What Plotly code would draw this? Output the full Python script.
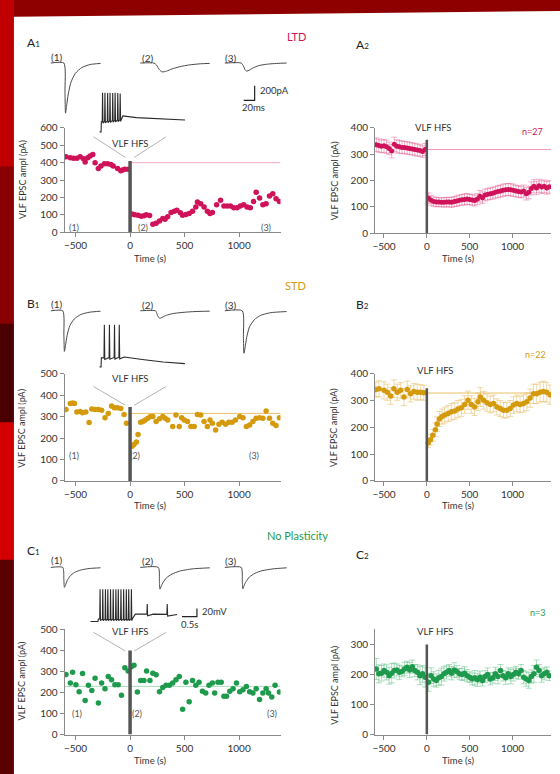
import numpy as np
import plotly.graph_objects as go

W, H = 560, 774
FONT = "Lato, Open Sans, sans-serif"
C_LTD = "#cf1259"
C_STD = "#d49a0c"
C_NP = "#1e9a4c"
AXC = "#8a8a8a"
TRC = "#4a4a4a"

# ---------------- data ----------------
# A1  LTD single cell
a1_pre_t = [-588, -548, -518, -488, -458, -427, -412, -388, -367, -342, -321, -291, -267, -236, -206, -176, -155, -115, -85, -70, -48, -18]
a1_pre_v = [434, 428, 425, 425, 434, 423, 404, 428, 438, 447, 400, 366, 381, 394, 394, 390, 381, 366, 353, 358, 362, 362]
a1_post_t = [18, 42, 73, 103, 127, 148, 179, 209, 239, 270, 300, 321, 345, 376, 406, 430, 461, 482, 512, 542, 573, 603, 618, 648,
             679, 709, 733, 755, 794, 830, 861, 891, 921, 951, 982, 1012, 1042, 1073, 1103, 1133, 1157, 1188, 1218, 1248, 1279, 1309, 1339, 1370]
a1_post_v = [105, 100, 98, 92, 95, 100, 96, 45, 51, 64, 79, 74, 89, 113, 121, 126, 111, 98, 102, 108, 121, 145, 174, 164,
             145, 121, 108, 113, 158, 183, 151, 151, 151, 140, 140, 151, 158, 145, 140, 177, 230, 196, 158, 164, 208, 221, 192, 177]
a1_ref = 400
a1_bar = 410

# A2  LTD mean (n=27)
a2_pre_t = [-590, -560, -530, -500, -470, -440, -410, -380, -350, -320, -290, -260, -230, -200, -170, -140, -110, -80, -50, -20]
a2_pre_v = [336, 333, 330, 332, 328, 322, 312, 338, 330, 328, 326, 326, 324, 322, 320, 318, 316, 314, 310, 318]
a2_pre_e = [26, 25, 24, 25, 25, 24, 26, 27, 25, 24, 24, 23, 24, 23, 23, 24, 23, 22, 22, 23]
a2_post_t = [20, 50, 80, 110, 140, 170, 200, 230, 260, 290, 320, 350, 380, 410, 440, 470, 500, 530, 560, 590, 620, 650, 680, 710,
             740, 770, 800, 830, 860, 890, 920, 950, 980, 1010, 1040, 1070, 1100, 1130, 1160, 1190, 1220, 1250, 1280, 1310, 1340, 1370, 1400, 1430]
a2_post_v = [133, 125, 120, 118, 118, 117, 117, 118, 118, 117, 120, 122, 125, 127, 128, 130, 128, 126, 124, 130, 140, 135, 145, 148,
             150, 152, 155, 158, 160, 163, 165, 166, 165, 163, 160, 158, 156, 160, 150, 155, 170, 178, 172, 180, 175, 178, 172, 176]
a2_post_e = [20, 19, 18, 18, 17, 17, 18, 18, 18, 19, 19, 20, 20, 20, 21, 21, 20, 20, 21, 21, 22, 22, 22, 22,
             22, 22, 22, 23, 23, 23, 23, 23, 23, 23, 22, 22, 22, 23, 24, 24, 25, 25, 25, 25, 24, 24, 24, 24]
a2_ref = 318
a2_bar = 355

# B1  STD single cell
b1_pre_t = [-588, -548, -527, -510, -488, -458, -436, -406, -376, -351, -321, -291, -261, -230, -200, -170, -145, -115, -85, -55, -33]
b1_pre_v = [333, 361, 364, 361, 321, 324, 318, 321, 272, 336, 333, 333, 330, 295, 315, 350, 341, 341, 338, 310, 269]
b1_post_t = [18, 36, 58, 73, 97, 118, 139, 164, 188, 209, 239, 270, 300, 321, 345, 391, 421, 451, 473, 497, 527, 558, 588, 618, 648,
             679, 709, 733, 755, 785, 815, 845, 876, 906, 936, 967, 1006, 1036, 1067, 1097, 1127, 1157, 1188, 1218, 1248, 1279, 1309, 1339, 1370]
b1_post_v = [162, 170, 182, 216, 274, 277, 284, 292, 300, 300, 277, 290, 300, 292, 284, 254, 307, 254, 295, 284, 277, 254, 254, 310, 307,
             277, 254, 284, 269, 238, 264, 274, 264, 274, 274, 284, 300, 295, 254, 261, 277, 292, 295, 292, 326, 292, 269, 258, 295]
b1_ref = 315
b1_bar = 345

# B2  STD mean (n=22)
b2_pre_t = [-595, -558, -500, -461, -422, -384, -345, -306, -267, -229, -190, -151, -112, -74, -35]
b2_pre_v = [341, 344, 338, 331, 317, 344, 331, 338, 313, 341, 325, 334, 331, 331, 329]
b2_pre_e = [28, 30, 32, 30, 31, 33, 30, 29, 32, 31, 30, 29, 30, 28, 28]
b2_post_t = [16, 43, 70, 100, 120, 147, 178, 209, 248, 287, 326, 364, 403, 442, 481, 519, 558, 597, 624, 663,
             702, 740, 779, 818, 857, 895, 934, 973, 1012, 1050, 1089, 1128, 1167, 1205, 1244, 1283, 1322, 1360, 1399, 1438]
b2_post_v = [142, 154, 170, 191, 212, 231, 240, 246, 252, 258, 261, 268, 273, 285, 301, 285, 276, 295, 313, 301,
             292, 285, 289, 276, 270, 264, 264, 270, 283, 289, 285, 289, 295, 309, 325, 325, 331, 334, 331, 322]
b2_post_e = [18, 20, 22, 25, 27, 28, 28, 30, 30, 31, 31, 32, 32, 33, 34, 33, 32, 33, 35, 33,
             32, 31, 31, 30, 30, 29, 29, 30, 31, 31, 31, 32, 33, 34, 36, 36, 37, 38, 37, 36]
b2_ref = 328
b2_bar = 346

# C1  no plasticity single cell
c1_t = [-588, -548, -527, -497, -467, -436, -412, -382, -351, -321, -291, -261, -230, -200, -170, -139, -109, -79, -48, -18,
        12, 36, 67, 97, 127, 151, 182, 209, 239, 270, 300, 330, 361, 391, 421, 451, 482, 512, 542, 573,
        603, 633, 664, 694, 724, 755, 776, 806, 836, 861, 885, 915, 945, 976, 1006, 1036, 1067, 1097, 1127, 1157,
        1188, 1218, 1248, 1270, 1300, 1330, 1370]
c1_v = [285, 245, 296, 237, 203, 290, 162, 234, 209, 268, 150, 245, 218, 276, 260, 237, 237, 187, 318, 302,
        322, 330, 202, 257, 257, 302, 257, 291, 284, 203, 224, 234, 234, 245, 260, 276, 120, 249, 156, 257,
        234, 249, 206, 198, 234, 245, 198, 249, 249, 182, 182, 206, 218, 245, 203, 213, 229, 203, 198, 218,
        167, 198, 218, 198, 179, 234, 202]
c1_ref = 229
c1_bar = 400

# C2  no plasticity mean (n=3)
c2_t = [-590, -560, -530, -500, -470, -440, -410, -380, -350, -320, -290, -260, -230, -200, -170, -140, -110, -80, -50, -20,
        20, 50, 80, 110, 140, 170, 200, 230, 260, 290, 320, 350, 380, 410, 440, 470, 500, 530, 560, 590, 620, 650, 680, 710,
        740, 770, 800, 830, 860, 890, 920, 950, 980, 1010, 1040, 1070, 1100, 1130, 1160, 1190, 1220, 1250, 1280, 1310, 1340, 1370, 1400, 1430]
c2_v = [218, 202, 204, 213, 207, 196, 204, 213, 215, 207, 210, 218, 224, 215, 226, 213, 207, 196, 202, 191,
        174, 196, 185, 180, 189, 193, 202, 207, 213, 204, 215, 210, 202, 200, 204, 196, 191, 185, 189, 182, 191, 180, 193, 200,
        185, 189, 202, 193, 213, 196, 189, 202, 193, 200, 207, 202, 213, 191, 185, 180, 193, 202, 224, 213, 196, 202, 207, 196]
c2_e = [35, 30, 26, 22, 25, 28, 32, 25, 20, 24, 18, 22, 20, 25, 22, 20, 25, 30, 28, 33,
        30, 26, 24, 22, 25, 28, 24, 22, 20, 22, 24, 20, 18, 20, 22, 20, 18, 20, 24, 22, 20, 18, 20, 22,
        20, 18, 22, 24, 20, 18, 22, 20, 24, 22, 20, 18, 20, 22, 24, 26, 22, 28, 24, 20, 22, 20, 18, 16]
c2_bar = 300

# example EPSC traces (time in ms, current in pA), three per row
epsc = {
    "A": [([0, 24, 26, 27, 29, 32, 37, 45, 57, 72, 91], [0, 0, -400, -680, -580, -420, -260, -140, -60, -20, -5]),
          ([0, 25, 30, 35, 40, 48, 58, 72, 90, 110, 127], [0, 0, -30, -90, -120, -110, -80, -50, -25, -10, -5]),
          ([0, 30, 34, 37, 40, 45, 52, 62, 78, 95, 113], [0, 0, -40, -90, -110, -95, -65, -35, -15, -5, 0])],
    "B": [([0, 22, 24, 25, 27, 30, 35, 43, 55, 70, 91], [0, 0, -330, -550, -470, -330, -200, -110, -50, -20, -5]),
          ([0, 28, 31, 34, 37, 42, 50, 62, 80, 100, 127], [0, 0, -50, -95, -100, -80, -55, -35, -20, -10, -5]),
          ([0, 32, 34, 35, 37, 40, 45, 54, 66, 84, 113], [0, 0, -350, -575, -500, -360, -220, -120, -60, -25, -10])],
    "C": [([0, 22, 24, 25, 27, 30, 35, 43, 55, 70, 91], [0, 0, -170, -270, -240, -180, -120, -70, -35, -15, -5]),
          ([0, 33, 35, 36, 38, 42, 48, 58, 72, 95, 127], [0, 0, -190, -295, -260, -200, -140, -90, -50, -20, -5]),
          ([0, 30, 32, 33, 35, 39, 45, 55, 68, 88, 113], [0, 0, -190, -290, -250, -190, -130, -80, -45, -20, -5])],
}
# HFS responses (time in s, membrane potential in mV)
hfs = {
    "A": dict(env_t=[0.07, 0.12, 0.13, 0.8, 0.85, 1.3, 2.0, 2.93], env_v=[-70, -70, -45, -40, -31, -35, -38, -41],
              sp_t=[0.17, 0.25, 0.34, 0.42, 0.51, 0.59, 0.68, 0.76], sp_v=[26, 26, 25, 26, 25, 26, 25, 24]),
    "B": dict(env_t=[0.07, 0.12, 0.13, 0.9, 1.5, 2.2, 2.93], env_v=[-70, -70, -48, -46, -52, -58, -62],
              sp_t=[0.23, 0.40, 0.57, 0.73], sp_v=[33, 33, 33, 33]),
    "C": dict(env_t=[0.1, 0.35, 0.36, 1.5, 1.6, 2.2, 3.0], env_v=[-70, -70, -64, -64, -52, -52, -53],
              sp_t=[0.42, 0.51, 0.60, 0.68, 0.77, 0.86, 0.95, 1.03, 1.12, 1.21, 1.30, 1.38, 1.47, 2.0, 2.67],
              sp_v=[9, 9, 9, 9, 9, 9, 9, 9, 9, 9, 9, 9, 9, -27, -27]),
}

x_ticks = [-500, 0, 500, 1000]

# ---------------- layout helpers ----------------
layout = dict(width=W, height=H, margin=dict(l=0, r=0, t=0, b=0),
              paper_bgcolor="#8e0000", plot_bgcolor="rgba(0,0,0,0)", showlegend=False,
              font=dict(family=FONT, size=10, color="#333"))
ann, shapes, traces = [], [], []


def names(i):
    return ("xaxis" if i == 1 else f"xaxis{i}", "yaxis" if i == 1 else f"yaxis{i}",
            "x" if i == 1 else f"x{i}", "y" if i == 1 else f"y{i}")


def axes(i, xpx, ypx, xr, yr, main=True, yticks=None):
    xa, ya, xs, ys = names(i)
    xd = [xpx[0] / W, xpx[1] / W]
    yd = [1 - ypx[1] / H, 1 - ypx[0] / H]
    if main:
        base = dict(showline=True, linecolor=AXC, linewidth=1, ticks="outside", ticklen=4, tickcolor=AXC,
                    showgrid=False, zeroline=False, tickfont=dict(size=10, color="#333"))
        layout[xa] = dict(domain=xd, range=xr, anchor=ys, tickvals=x_ticks, **base)
        layout[ya] = dict(domain=yd, range=yr, anchor=xs, tickvals=yticks, **base)
    else:
        layout[xa] = dict(domain=xd, range=xr, anchor=ys, visible=False)
        layout[ya] = dict(domain=yd, range=yr, anchor=xs, visible=False)
    return xs, ys


def txt(x, y, s, size=10, color="#333", xanchor="center", yanchor="middle", angle=0):
    ann.append(dict(x=x / W, y=1 - y / H, xref="paper", yref="paper", text=s, showarrow=False,
                    font=dict(size=size, color=color, family=FONT), xanchor=xanchor, yanchor=yanchor, textangle=angle))


def pline(x0, y0, x1, y1, color="#b4b4b4", width=1):
    shapes.append(dict(type="line", xref="paper", yref="paper", x0=x0 / W, y0=1 - y0 / H, x1=x1 / W, y1=1 - y1 / H,
                       line=dict(color=color, width=width)))


def dots(xs, ys, t, v, color, size=5, err=None, ecolor=None):
    tr = go.Scatter(x=t, y=v, mode="markers", xaxis=xs, yaxis=ys,
                    marker=dict(color=color, size=size, line=dict(width=0)), hoverinfo="skip")
    if err is not None:
        tr.error_y = dict(type="data", array=err, visible=True, color=ecolor, thickness=0.8, width=3)
    traces.append(tr)


def bar(xs, ys, top, width):
    shapes.append(dict(type="line", xref=xs, yref=ys, x0=0, x1=0, y0=0, y1=top,
                       line=dict(color="#555555", width=width)))


def ref(xs, ys, y, x0, x1, color):
    shapes.append(dict(type="line", xref=xs, yref=ys, x0=x0, x1=x1, y0=y, y1=y,
                       line=dict(color=color, width=1), layer="below"))


# ---------------- background panel ----------------
for (ya, yb, col) in [(0, 170, "#c00000"), (170, 330, "#8a0000"), (330, 430, "#4a0000"),
                      (430, 570, "#d40000"), (570, 790, "#5a0000")]:
    shapes.append(dict(type="rect", xref="paper", yref="paper", x0=-0.01, x1=11 / W, y0=1 - yb / H, y1=1 - ya / H + 0.01,
                       fillcolor=col, line=dict(width=0), layer="below"))
shapes.append(dict(type="path", xref="paper", yref="paper",
                   path=f"M {11/W},{1-10/H} L 1.02,{1-4/H} L 1.02,-0.02 L {11/W},-0.02 Z",
                   fillcolor="white", line=dict(width=0), layer="below"))

# ---------------- main panels ----------------
XL1, XL2 = [62, 279], [374, 551]
R1, R2 = [-600, 1380], [-605, 1450]

xs, ys = axes(1, XL1, [123, 229], R1, [0, 600], yticks=[0, 100, 200, 300, 400, 500, 600])
ref(xs, ys, a1_ref, 0, R1[1], "#f3a9c2")
dots(xs, ys, a1_pre_t + a1_post_t, a1_pre_v + a1_post_v, C_LTD, 5.5)
bar(xs, ys, a1_bar, 3.5)

xs, ys = axes(2, XL2, [123, 230], R2, [0, 400], yticks=[0, 100, 200, 300, 400])
ref(xs, ys, a2_ref, 0, R2[1], "#f09ab8")
dots(xs, ys, a2_pre_t + a2_post_t, a2_pre_v + a2_post_v, C_LTD, 5, a2_pre_e + a2_post_e, "rgba(225,80,135,0.55)")
bar(xs, ys, a2_bar, 2.5)

xs, ys = axes(3, XL1, [373, 482], R1, [0, 500], yticks=[0, 100, 200, 300, 400, 500])
ref(xs, ys, b1_ref, 0, R1[1], "#e9c062")
dots(xs, ys, b1_pre_t + b1_post_t, b1_pre_v + b1_post_v, C_STD, 5.5)
bar(xs, ys, b1_bar, 3.5)

xs, ys = axes(4, XL2, [373, 482], R2, [0, 400], yticks=[0, 100, 200, 300, 400])
ref(xs, ys, b2_ref, 0, R2[1], "#e9c062")
dots(xs, ys, b2_pre_t + b2_post_t, b2_pre_v + b2_post_v, C_STD, 5.5, b2_pre_e + b2_post_e, "rgba(226,175,70,0.6)")
bar(xs, ys, b2_bar, 2.5)

xs, ys = axes(5, XL1, [633, 740], R1, [0, 500], yticks=[0, 100, 200, 300, 400, 500])
ref(xs, ys, c1_ref, R1[0], R1[1], "#a9dcb9")
dots(xs, ys, c1_t, c1_v, C_NP, 5.5)
bar(xs, ys, c1_bar, 3.5)

xs, ys = axes(6, XL2, [633, 740], R2, [0, 350], yticks=[0, 100, 200, 300])
dots(xs, ys, c2_t, c2_v, C_NP, 5.5, c2_e, "rgba(70,180,110,0.55)")
bar(xs, ys, c2_bar, 2.5)

# in-plot sample markers (1)(2)(3)
for i, (pts) in zip([1, 3, 5], [[(-518, 28), (121, 28), (1243, 28)],
                                 [(-518, 119), (48, 119), (1134, 119)],
                                 [(-490, 98), (66, 98), (1298, 98)]]):
    xs, ys = names(i)[2:]
    for k, (tx, ty) in enumerate(pts):
        ann.append(dict(x=tx, y=ty, xref=xs, yref=ys, text=f"({k+1})", showarrow=False,
                        font=dict(size=9, color="#555", family=FONT)))

# ---------------- example traces ----------------
MS_PX = 0.55       # px per ms
PA_PX = 15 / 200   # px per pA
strip_x = [40, 300]
starts_px = [48, 138, 223]
base_px = {"A": 57, "B": 309, "C": 570}
for j, key in enumerate(["A", "B", "C"]):
    b = base_px[key]
    ypx = [b - 12, b + 55]
    xr = [0, (strip_x[1] - strip_x[0]) / MS_PX]
    yr = [-(ypx[1] - b) / PA_PX, (b - ypx[0]) / PA_PX]
    xs, ys = axes(7 + j, strip_x, ypx, xr, yr, main=False)
    for k, (tt, vv) in enumerate(epsc[key]):
        off = (starts_px[k] - strip_x[0]) / MS_PX
        traces.append(go.Scatter(x=[off + t for t in tt], y=vv, mode="lines", xaxis=xs, yaxis=ys,
                                 line=dict(color=TRC, width=1, shape="spline", smoothing=0.6), hoverinfo="skip"))
    if key == "A":
        bx = (253 - strip_x[0]) / MS_PX
        by = -(95 - b) / PA_PX
        traces.append(go.Scatter(x=[bx - 20, bx, bx], y=[by, by, by + 200], mode="lines", xaxis=xs, yaxis=ys,
                                 line=dict(color="#222", width=1.2), hoverinfo="skip"))

S_PX = 30       # px per s
MV_PX = 0.415   # px per mV
hfs_box = {"A": ([95, 190], [82, 130], 127), "B": ([95, 190], [318, 370], 366), "C": ([85, 200], [585, 630], 625)}
for j, key in enumerate(["A", "B", "C"]):
    xpx, ypx, rest_px = hfs_box[key]
    xr = [0, (xpx[1] - xpx[0]) / S_PX]
    yr = [-70 - (ypx[1] - rest_px) / MV_PX, -70 + (rest_px - ypx[0]) / MV_PX]
    xs, ys = axes(10 + j, xpx, ypx, xr, yr, main=False)
    d = hfs[key]
    t = list(d["env_t"]); v = list(d["env_v"])
    for s, pk in zip(d["sp_t"], d["sp_v"]):
        bse = float(np.interp(s, d["env_t"], d["env_v"]))
        t += [s - 0.012, s, s + 0.014]
        v += [bse, pk, bse - 4]
    order = np.argsort(t)
    traces.append(go.Scatter(x=np.array(t)[order], y=np.array(v)[order], mode="lines", xaxis=xs, yaxis=ys,
                             line=dict(color="#2a2a2a", width=1.1), hoverinfo="skip"))
    if key == "C":
        sx = (195 - xpx[0]) / S_PX
        sy = -70 + (rest_px - 620) / MV_PX
        traces.append(go.Scatter(x=[sx - 0.5, sx, sx], y=[sy, sy, sy + 20], mode="lines", xaxis=xs, yaxis=ys,
                                 line=dict(color="#222", width=1.2), hoverinfo="skip"))

# ---------------- texts ----------------
txt(295, 30, "LTD", 11, C_LTD)
txt(294, 283, "STD", 11, C_STD)
txt(296, 538, "No Plasticity", 11, C_NP)

sub = "<span style='font-size:8px'>{}</span>"
txt(22, 36, "A" + sub.format("1"), 12, "#222", xanchor="left")
txt(353, 38, "A" + sub.format("2"), 12, "#222", xanchor="left")
txt(22, 302, "B" + sub.format("1"), 12, "#222", xanchor="left")
txt(353, 303, "B" + sub.format("2"), 12, "#222", xanchor="left")
txt(22, 553, "C" + sub.format("1"), 12, "#222", xanchor="left")
txt(353, 557, "C" + sub.format("2"), 12, "#222", xanchor="left")

for y in [51, 302, 562]:
    txt(54, y, "(1)", 10, "#333")
    txt(145, y + 1, "(2)", 10, "#333")
    txt(229, y + 1, "(3)", 10, "#333")

txt(256, 85, "200pA", 9.5, "#333", xanchor="left")
txt(252, 102, "20ms", 9.5, "#333")
txt(198, 615, "20mV", 9.5, "#333", xanchor="left")
txt(188, 628, "0.5s", 9.5, "#333")

for yv, yfun in [(139, (132, 153)), (378, (386, 405)), (635, (636, 655))]:
    txt(128, yv, "VLF HFS", 9.5, "#333")
    pline(91, yfun[0], 123, yfun[1])
    pline(164, yfun[0], 132, yfun[1])

txt(433, 123, "VLF HFS", 9.5, "#333")
txt(435, 370, "VLF HFS", 9.5, "#333")
txt(435, 635, "VLF HFS", 9.5, "#333")
txt(532, 127, "n=27", 9, C_LTD)
txt(535, 353, "n=22", 9, C_STD)
txt(537, 616, "n=3", 9, C_NP)

for (ylab_y, time_y) in [(175, 256), (428, 507), (685, 766)]:
    txt(19, ylab_y, "VLF EPSC ampl (pA)", 9, "#333", angle=-90)
    txt(148, time_y, "Time (s)", 9.5, "#333")
for (ylab_y, time_y) in [(177, 256), (428, 507), (690, 766)]:
    txt(333, ylab_y, "VLF EPSC ampl (pA)", 9, "#333", angle=-90)
    txt(457, time_y, "Time (s)", 9.5, "#333")

layout["annotations"] = ann
layout["shapes"] = shapes
fig = go.Figure(data=traces, layout=layout)
fig.write_html("out.html", config={"displayModeBar": False},
               post_script="document.body.style.margin='0px';document.body.style.overflow='hidden';")
